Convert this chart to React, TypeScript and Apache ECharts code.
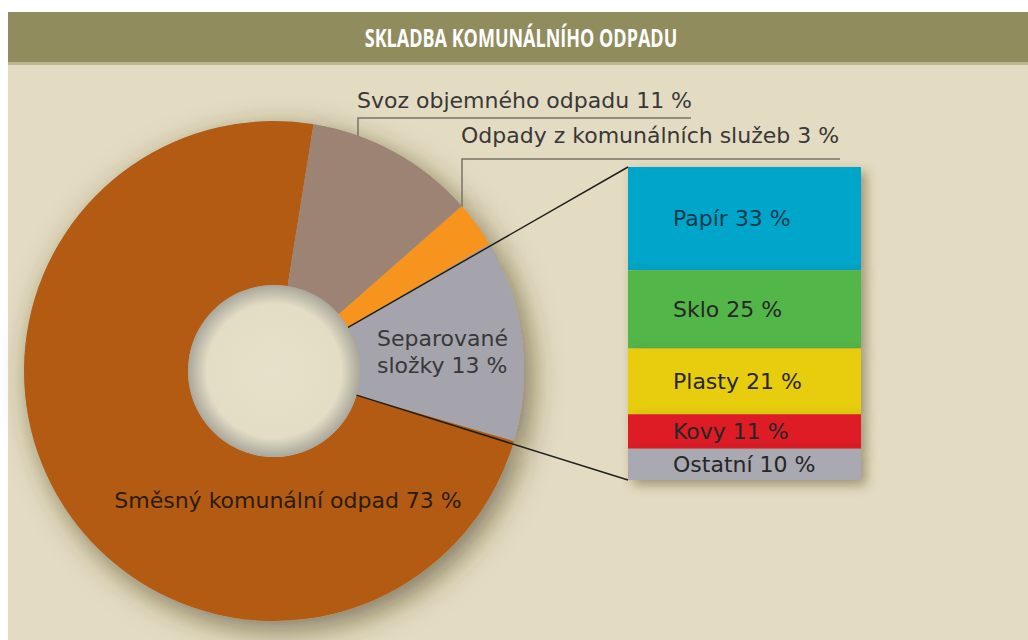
import React, { useEffect, useRef } from "react";
import * as echarts from "echarts";

const TITLE = "SKLADBA KOMUNÁLNÍHO ODPADU";

const pieLabels = ["Separované\nsložky", "Směsný komunální odpad", "Svoz objemného odpadu", "Odpady z komunálních služeb"];
const pieValues = [13, 73, 11, 3];
const pieColors = ["#a5a4ac", "#b35b12", "#9c8374", "#f7941d"];

const barNames = ["Papír", "Sklo", "Plasty", "Kovy", "Ostatní"];
const barValues = [33, 25, 21, 11, 10];
const barColors = ["#00a6c9", "#52b649", "#e7cd0b", "#dd1f26", "#a9a9b1"];

export default function App() {
  const ref = useRef<HTMLDivElement>(null);

  useEffect(() => {
    if (!ref.current) return;
    const chart = echarts.init(ref.current, null, { renderer: "svg" });

    const cx = 274, cy = 371, rIn = 86, rOut = 250;
    const startAngle = 30.5;
    const total = pieValues.reduce((a, b) => a + b, 0);
    const endSep = startAngle - (pieValues[0] / total) * 360;
    const rad = (d: number) => (d * Math.PI) / 180;
    const p1 = [cx + rIn * Math.cos(rad(startAngle)), cy - rIn * Math.sin(rad(startAngle))];
    const p2 = [cx + rIn * Math.cos(rad(endSep)), cy - rIn * Math.sin(rad(endSep))];

    const gridL = 628, gridT = 167, gridW = 233, gridH = 313;

    const font = "'DejaVu Sans', 'Open Sans', sans-serif";

    const labelPos: any = {
      0: { x: 377, y: 352, align: "left" },
      1: { x: 288, y: 500, align: "center" },
      2: { x: 357, y: 100, align: "left", pts: [[358, 207], [358, 118], [691, 118]] },
      3: { x: 461, y: 135, align: "left", pts: [[462, 253], [462, 159], [840, 159]] },
    };

    const pieData = pieValues.map((v, i) => ({
      value: v,
      name: pieLabels[i],
      itemStyle: { color: pieColors[i] },
      labelLine: { show: i >= 2 },
      label: { color: i === 1 ? "#2b1c0e" : "#383838" },
    }));

    const barSeries = barNames.map((n, i) => ({
      type: "bar",
      name: n,
      stack: "total",
      barWidth: "100%",
      data: [barValues[i]],
      itemStyle: {
        color: barColors[i],
        shadowBlur: 12,
        shadowColor: "rgba(70,60,30,0.45)",
        shadowOffsetX: 5,
        shadowOffsetY: 5,
      },
      label: {
        show: true,
        position: [45, "50%"],
        align: "left",
        verticalAlign: "middle",
        formatter: () => `${n} ${barValues[i]} %`,
        fontFamily: font,
        fontSize: 22,
        color: i === 0 ? "#123a4e" : "#262626",
      },
      silent: true,
    }));

    const option: any = {
      animation: false,
      backgroundColor: "#e4dcc2",
      grid: { left: gridL, top: gridT, width: gridW, height: gridH },
      xAxis: { type: "category", data: [""], show: false },
      yAxis: { type: "value", min: 0, max: 100, inverse: true, show: false },
      graphic: {
        elements: [
          { type: "rect", z: 0, shape: { x: 0, y: 0, width: 1028, height: 12 }, style: { fill: "#ffffff" } },
          { type: "rect", z: 0, shape: { x: 0, y: 0, width: 8, height: 640 }, style: { fill: "#ffffff" } },
          { type: "rect", z: 0, shape: { x: 8, y: 12, width: 1020, height: 50 }, style: { fill: "#908c5e" } },
          { type: "rect", z: 0, shape: { x: 8, y: 62, width: 1020, height: 3 }, style: { fill: "#bdb790" } },
          {
            type: "text",
            z: 100,
            x: 521,
            y: 37,
            scaleX: 0.72,
            style: {
              text: TITLE,
              fill: "#ffffff",
              font: "bold 25px 'Open Sans', sans-serif",
              align: "center",
              verticalAlign: "middle",
            },
          },
          {
            type: "circle",
            z: 50,
            shape: { cx, cy, r: rIn },
            style: {
              fill: new echarts.graphic.RadialGradient(0.5, 0.5, 0.5, [
                { offset: 0, color: "#e7e1cb" },
                { offset: 0.78, color: "#e3ddc5" },
                { offset: 1, color: "#aaa79b" },
              ]),
            },
          },
          {
            type: "line",
            z: 100,
            shape: { x1: gridL, y1: gridT, x2: p1[0], y2: p1[1] },
            style: { stroke: "#1e1e1e", lineWidth: 1.5 },
          },
          {
            type: "line",
            z: 100,
            shape: { x1: gridL, y1: gridT + gridH, x2: p2[0], y2: p2[1] },
            style: { stroke: "#1e1e1e", lineWidth: 1.5 },
          },
        ],
      },
      series: [
        {
          type: "pie",
          silent: true,
          center: [cx, cy],
          radius: [rIn, rOut],
          startAngle,
          clockwise: true,
          z: 1,
          data: pieValues.map((v) => ({ value: v })),
          label: { show: false },
          labelLine: { show: false },
          itemStyle: {
            color: "#b0a58a",
            shadowBlur: 30,
            shadowColor: "rgba(60,50,20,0.6)",
            shadowOffsetX: 7,
            shadowOffsetY: 9,
          },
        },
        {
          type: "pie",
          silent: true,
          center: [cx, cy],
          radius: [rIn, rOut],
          startAngle,
          clockwise: true,
          avoidLabelOverlap: false,
          z: 2,
          data: pieData,
          label: {
            show: true,
            position: "outside",
            formatter: (p: any) => `${p.name} ${p.value} %`,
            fontFamily: font,
            fontSize: 22,
            lineHeight: 27,
            color: "#383838",
          },
          labelLine: { show: true, lineStyle: { color: "#7a7266", width: 1.5 } },
          labelLayout: (params: any) => {
            const lp = labelPos[params.dataIndex];
            const res: any = { x: lp.x, y: lp.y, align: lp.align, verticalAlign: "middle" };
            if (lp.pts) res.labelLinePoints = lp.pts;
            return res;
          },
        },
        ...barSeries,
      ],
    };

    chart.setOption(option);
    return () => chart.dispose();
  }, []);

  return (
    <div
      ref={ref}
      style={{ position: "absolute", left: 0, top: 0, width: 1028, height: 640 }}
    />
  );
}
